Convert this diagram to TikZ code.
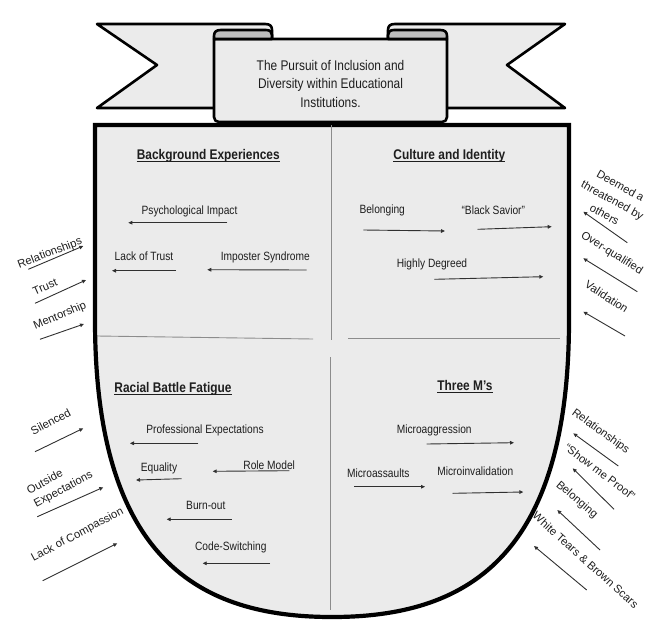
\documentclass[tikz,border=0pt]{standalone}
\usepackage{fontspec}
\setmainfont{Liberation Sans}[FakeStretch=0.85]
\newfontfamily\outfont{Liberation Sans}
\usetikzlibrary{arrows.meta}

\definecolor{panelfill}{HTML}{EBEBEB}
\definecolor{rollfill}{HTML}{BDBDBD}
\definecolor{divider}{HTML}{8C8C8C}
\definecolor{ink}{HTML}{1E1E1E}
\definecolor{arrowink}{HTML}{303030}

% free-standing arrow between two named coordinates
\newcommand\freearrow[3]{%
  \coordinate (#1-from) at (#2);
  \coordinate (#1-to) at (#3);
  \draw[flowarrow] (#1-from) -- (#1-to);}

\begin{document}
\begin{tikzpicture}[x=1pt,y=-1pt,
  ribbon/.style={draw=black, line width=2.6pt, line join=round, fill=panelfill},
  rollpart/.style={draw=black, line width=2.6pt, line join=round, fill=rollfill},
  shieldline/.style={draw=black, line width=4.2pt, line join=miter, fill=panelfill},
  divline/.style={draw=divider, line width=0.9pt},
  flowarrow/.style={draw=arrowink, line width=0.9pt, -{Triangle[length=4pt,width=3.6pt]}},
  lbl/.style={font=\fontsize{12}{14}\selectfont, text=ink, inner sep=0pt, anchor=base},
  heading/.style={font=\fontsize{14}{16}\selectfont\bfseries, text=ink, inner sep=0pt, anchor=base},
  outlbl/.style={font=\outfont\fontsize{11.3}{15}\selectfont, text=ink, inner sep=0pt, anchor=center},
  underl/.style={draw=ink, line width=0.9pt}
]
\useasboundingbox (0,0) rectangle (655,634);

% ---- shield ----
\path[shieldline] (95,125) -- (95,320)
  .. controls (95,560) and (200,617) .. (332,617)
  .. controls (464,617) and (569,560) .. (569,320)
  -- (569,125) -- cycle;

% quadrant dividers
\draw[divline] (331,125) -- (331,340);
\draw[divline] (97,336) -- (313,339);
\draw[divline] (348,338) -- (560,338);
\draw[divline] (330,357) -- (330,610);

% ---- banner ----
% left tail
\path[ribbon] (265,24) -- (97,24) -- (157,65) -- (97,108) -- (240,108)
  -- (240,39) -- (272,39) -- (272,30) .. controls (272,26) and (270,24) .. (265,24) -- cycle;
% right tail
\path[ribbon] (395,24) -- (565,24) -- (507,65) -- (565,108) -- (420,108)
  -- (420,39) -- (388,39) -- (388,30) .. controls (388,26) and (390,24) .. (395,24) -- cycle;
% central panel
\path[ribbon] (214,39) -- (214,117) .. controls (214,120) and (216,122) .. (219,122)
  -- (442,122) .. controls (445,122) and (447,120) .. (447,117) -- (447,39) -- cycle;
% rolled ends
\path[rollpart] (214,39) -- (214,36) .. controls (214,32) and (216,30) .. (221,30)
  -- (266,30) .. controls (270,30) and (272,32) .. (272,35) -- (272,39) -- cycle;
\path[rollpart] (447,39) -- (447,36) .. controls (447,32) and (445,30) .. (440,30)
  -- (394,30) .. controls (390,30) and (388,32) .. (388,35) -- (388,39) -- cycle;

\node[font=\fontsize{14}{18.7}\selectfont, text=ink, align=center, inner sep=0pt]
  (title) at (330.5,83.7) {The Pursuit of Inclusion and\\Diversity within Educational\\Institutions.};

% ---- headings ----
\node[heading] (hbg) at (208.3,159.5) {Background Experiences};
\node[heading] (hci) at (449.3,159.5) {Culture and Identity};
\node[heading] (hrb) at (173,392.3) {Racial Battle Fatigue};
\node[heading] (htm) at (465,390.8) {Three M’s};
\foreach \h in {hbg,hci,hrb,htm}
  \draw[underl] ([yshift=-1.8pt]\h.base west) -- ([yshift=-1.8pt]\h.base east);

% ---- quadrant labels ----
\node[lbl] (psy) at (189.5,214.5) {Psychological Impact};
\node[lbl] (lot) at (144,260.5) {Lack of Trust};
\node[lbl] (imp) at (265.3,260.5) {Imposter Syndrome};
\node[lbl] (bel) at (382.2,213) {Belonging};
\node[lbl] (bsv) at (493.3,214.5) {“Black Savior”};
\node[lbl] (hdg) at (432,267.6) {Highly Degreed};
\node[lbl] (pex) at (205,433.5) {Professional Expectations};
\node[lbl] (equ) at (159,471.8) {Equality};
\node[lbl] (rol) at (269.2,469.3) {Role Model};
\node[lbl] (bur) at (205.8,509) {Burn-out};
\node[lbl] (cod) at (230.8,550.5) {Code-Switching};
\node[lbl] (mag) at (434.2,433.4) {Microaggression};
\node[lbl] (mas) at (378.3,477.2) {Microassaults};
\node[lbl] (miv) at (475.3,475.4) {Microinvalidation};

\freearrow{a1}{227.3,222.7}{128.3,222.7}
\freearrow{a2}{176,270.7}{112,270.7}
\freearrow{a3}{306.7,270}{207.3,269.7}
\freearrow{a4}{363.3,230}{445,231}
\freearrow{a5}{477.7,229.3}{551.7,226.7}
\freearrow{a6}{434.3,279.3}{543.3,276.7}
\freearrow{a7}{198.3,443.3}{130,443.3}
\freearrow{a8}{181.7,478.7}{136,480}
\freearrow{a9}{289.3,470.7}{212.7,471.3}
\freearrow{a10}{231.7,519.3}{166.7,519.3}
\freearrow{a11}{270,563.3}{202.7,563.3}
\freearrow{a12}{426.7,444}{514,442.7}
\freearrow{a13}{354,486.7}{425,486.7}
\freearrow{a14}{452.7,493.3}{523.3,492}

% ---- outside, left ----
\node[outlbl, rotate=21] (lrel) at (50,253.3) {Relationships};
\node[outlbl, rotate=24] (ltru) at (45,286.7) {Trust};
\node[outlbl, rotate=23] (lmen) at (60,316) {Mentorship};
\node[outlbl, rotate=28] (lsil) at (50.7,421.7) {Silenced};
\node[outlbl, rotate=28, align=left] (lout) at (60,483) {Outside\\Expectations};
\node[outlbl, rotate=28] (llac) at (77.5,535) {Lack of Compassion};

\freearrow{b1}{28.3,269.3}{83.3,246}
\freearrow{b2}{35,303.3}{86,280}
\freearrow{b3}{40,339.3}{84,324}
\freearrow{b4}{35,451.7}{83.3,428.3}
\freearrow{b5}{37.3,516.7}{103.3,487.3}
\freearrow{b6}{42.7,580.7}{117.3,543.3}

% ---- outside, right ----
\node[outlbl, rotate=-29, align=center, font=\outfont\fontsize{11.3}{16.5}\selectfont]
  (rdee) at (612.5,200) {Deemed a\\threatened by\\others};
\node[outlbl, rotate=-32] (rove) at (611.7,253.3) {Over-qualified};
\node[outlbl, rotate=-33] (rval) at (606.7,296.7) {Validation};
\node[outlbl, rotate=-36] (rrel) at (600.5,431.7) {Relationships};
\node[outlbl, rotate=-37] (rsho) at (600,471.7) {“Show me Proof”};
\node[outlbl, rotate=-40] (rbel) at (576.7,500) {Belonging};
\node[outlbl, rotate=-42] (rwhi) at (585.7,560) {White Tears \& Brown Scars};

\freearrow{c1}{627.3,242.7}{583.3,211.7}
\freearrow{c2}{637.3,291.7}{583.3,258.3}
\freearrow{c3}{625,336}{583.3,311.7}
\freearrow{c4}{618.3,466}{573.3,433.3}
\freearrow{c5}{614,509.3}{572.7,468.3}
\freearrow{c6}{600,550}{557.3,510}
\freearrow{c7}{586.7,590}{534,546}
\end{tikzpicture}
\end{document}
